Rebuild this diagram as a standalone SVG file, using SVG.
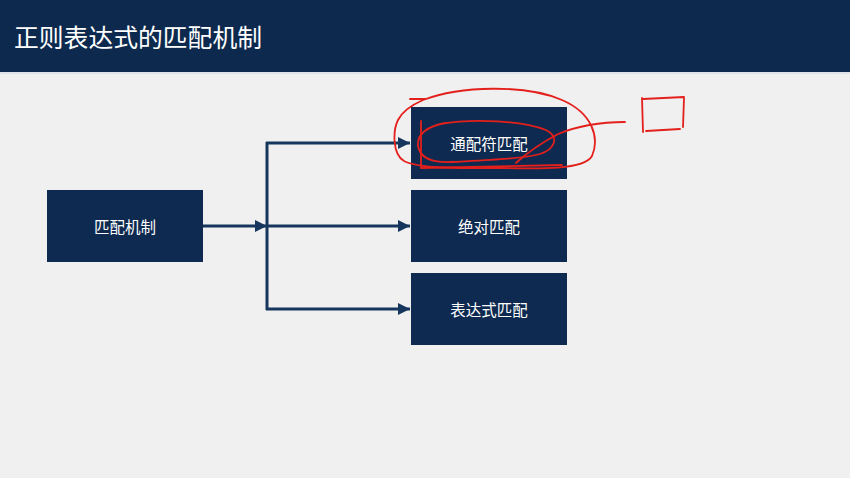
<svg xmlns="http://www.w3.org/2000/svg" width="850" height="478" viewBox="0 0 850 478">
<style>
.box{fill:#0e2a50}
.lbl{fill:#ffffff;font-family:"Noto Sans CJK SC","Liberation Sans",sans-serif;font-size:15.5px;text-anchor:middle;dominant-baseline:central}
.conn{stroke:#17365d;stroke-width:3;fill:none}
.red{stroke:#e3201b;stroke-width:1.8;fill:none;stroke-linecap:round;stroke-linejoin:round}
</style>
<defs>
<marker id="ah" viewBox="0 0 10 10" refX="10" refY="5" markerWidth="4" markerHeight="4" orient="auto" markerUnits="strokeWidth">
<path d="M0,0 L10,5 L0,10 z" fill="#17365d"/>
</marker>
</defs>
<rect width="850" height="478" fill="#f0f0f0"/>
<rect width="850" height="72" fill="#0d2a4e"/>
<rect y="72" width="850" height="2" fill="#dfe3e8"/>
<text x="14" y="36" fill="#ffffff" font-family="Noto Sans CJK SC,Liberation Sans,sans-serif" font-size="24.8" dominant-baseline="central">正则表达式的匹配机制</text>

<g id="connectors">
<line class="conn" x1="203" y1="226" x2="267" y2="226" marker-end="url(#ah)"/>
<line class="conn" x1="267" y1="142" x2="267" y2="310"/>
<line class="conn" x1="266" y1="143" x2="410" y2="143" marker-end="url(#ah)"/>
<line class="conn" x1="267" y1="226" x2="410" y2="226" marker-end="url(#ah)"/>
<line class="conn" x1="266" y1="309" x2="410" y2="309" marker-end="url(#ah)"/>
</g>

<g id="node-mechanism">
<rect class="box" x="47" y="190" width="156" height="72"/>
<text class="lbl" x="125" y="226">匹配机制</text>
</g>
<g id="node-wildcard">
<rect class="box" x="411" y="107" width="156" height="72"/>
<text class="lbl" x="489" y="143">通配符匹配</text>
</g>
<g id="node-absolute">
<rect class="box" x="411" y="190" width="156" height="72"/>
<text class="lbl" x="489" y="226">绝对匹配</text>
</g>
<g id="node-expression">
<rect class="box" x="411" y="273" width="156" height="72"/>
<text class="lbl" x="489" y="309">表达式匹配</text>
</g>

<g id="annotations">
<path class="red" d="M410,99 L425,99"/>
<path class="red" d="M423,100 C460,86 525,84 562,100 C592,113 600,137 592,156 C584,170 540,169 500,168 C460,168 420,169 404,161 C392,154 393,130 398,120 C403,110 414,104 423,100"/>
<path class="red" d="M440,124 C475,118 522,121 546,130 C561,138 553,150 540,154 C520,159 490,160 452,162 C432,163 420,158 418,146 C417,135 425,127 445,123"/>
<path class="red" d="M421,121 L421,168 L562,165"/>
<path class="red" d="M516,163 C528,152 545,141 558,134 C580,125 605,122 625,122"/>
<path class="red" d="M642,98 L643,132 M646,131 L680,129 M684,98 L683,127 M643,99 L684,97"/>
</g>
</svg>
